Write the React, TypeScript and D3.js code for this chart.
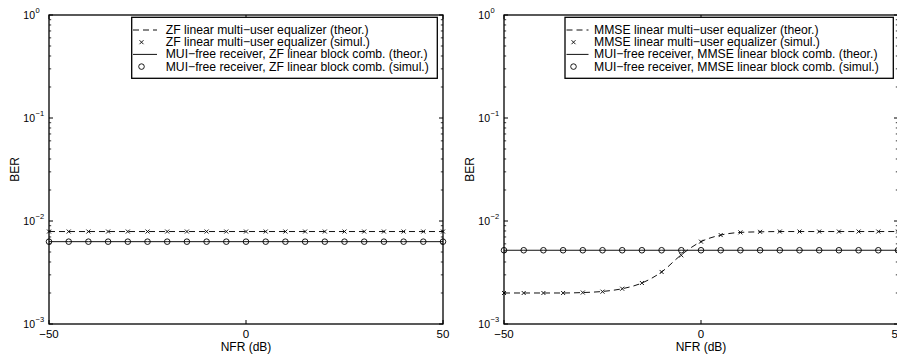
import React from "react";
import * as d3 from "d3";

// ---------- data ----------
const nfr = [-50, -45, -40, -35, -30, -25, -20, -15, -10, -5, 0, 5, 10, 15, 20, 25, 30, 35, 40, 45, 50];

const zfEqTheor = [7.9e-3, 7.9e-3, 7.9e-3, 7.9e-3, 7.9e-3, 7.9e-3, 7.9e-3, 7.9e-3, 7.9e-3, 7.9e-3, 7.9e-3, 7.9e-3, 7.9e-3, 7.9e-3, 7.9e-3, 7.9e-3, 7.9e-3, 7.9e-3, 7.9e-3, 7.9e-3, 7.9e-3];
const zfEqSimul = [7.9e-3, 7.9e-3, 7.9e-3, 7.9e-3, 7.9e-3, 7.9e-3, 7.9e-3, 7.9e-3, 7.9e-3, 7.9e-3, 7.9e-3, 7.9e-3, 7.9e-3, 7.9e-3, 7.9e-3, 7.9e-3, 7.9e-3, 7.9e-3, 7.9e-3, 7.9e-3, 7.9e-3];
const zfBlockTheor = [6.3e-3, 6.3e-3, 6.3e-3, 6.3e-3, 6.3e-3, 6.3e-3, 6.3e-3, 6.3e-3, 6.3e-3, 6.3e-3, 6.3e-3, 6.3e-3, 6.3e-3, 6.3e-3, 6.3e-3, 6.3e-3, 6.3e-3, 6.3e-3, 6.3e-3, 6.3e-3, 6.3e-3];
const zfBlockSimul = [6.3e-3, 6.3e-3, 6.3e-3, 6.3e-3, 6.3e-3, 6.3e-3, 6.3e-3, 6.3e-3, 6.3e-3, 6.3e-3, 6.3e-3, 6.3e-3, 6.3e-3, 6.3e-3, 6.3e-3, 6.3e-3, 6.3e-3, 6.3e-3, 6.3e-3, 6.3e-3, 6.3e-3];

const mmseEqTheor = [2.0e-3, 2.0e-3, 2.0e-3, 2.0e-3, 2.02e-3, 2.07e-3, 2.2e-3, 2.5e-3, 3.2e-3, 4.7e-3, 6.3e-3, 7.3e-3, 7.75e-3, 7.85e-3, 7.9e-3, 7.9e-3, 7.9e-3, 7.9e-3, 7.9e-3, 7.9e-3, 7.9e-3];
const mmseEqSimul = [2.0e-3, 2.0e-3, 2.0e-3, 2.0e-3, 2.02e-3, 2.06e-3, 2.2e-3, 2.5e-3, 3.2e-3, 4.65e-3, 6.3e-3, 7.3e-3, 7.75e-3, 7.85e-3, 7.9e-3, 7.9e-3, 7.9e-3, 7.9e-3, 7.9e-3, 7.9e-3, 7.9e-3];
const mmseBlockTheor = [5.2e-3, 5.2e-3, 5.2e-3, 5.2e-3, 5.2e-3, 5.2e-3, 5.2e-3, 5.2e-3, 5.2e-3, 5.2e-3, 5.2e-3, 5.2e-3, 5.2e-3, 5.2e-3, 5.2e-3, 5.2e-3, 5.2e-3, 5.2e-3, 5.2e-3, 5.2e-3, 5.2e-3];
const mmseBlockSimul = [5.2e-3, 5.2e-3, 5.2e-3, 5.2e-3, 5.2e-3, 5.2e-3, 5.2e-3, 5.2e-3, 5.2e-3, 5.2e-3, 5.2e-3, 5.2e-3, 5.2e-3, 5.2e-3, 5.2e-3, 5.2e-3, 5.2e-3, 5.2e-3, 5.2e-3, 5.2e-3, 5.2e-3];

const xTicks = [-50, 0, 50];
const yMajor = [1e-3, 1e-2, 1e-1, 1];
const yExponents = ["−3", "−2", "−1", "0"];

const zfLegend = [
  "ZF linear multi−user equalizer (theor.)",
  "ZF linear multi−user equalizer (simul.)",
  "MUI−free receiver, ZF linear block comb. (theor.)",
  "MUI−free receiver, ZF linear block comb. (simul.)",
];
const mmseLegend = [
  "MMSE linear multi−user equalizer (theor.)",
  "MMSE linear multi−user equalizer (simul.)",
  "MUI−free receiver, MMSE linear block comb. (theor.)",
  "MUI−free receiver, MMSE linear block comb. (simul.)",
];

const FONT = "'Liberation Sans', Arial, Helvetica, sans-serif";

type PanelProps = {
  x0: number;
  x1: number;
  eqTheor: number[];
  eqSimul: number[];
  blockTheor: number[];
  blockSimul: number[];
  legend: string[];
  legendBox: { left: number; right: number; lineL: number; lineR: number; marker: number; text: number };
};

const Y_TOP = 15;
const Y_BOT = 324;

function Panel({ x0, x1, eqTheor, eqSimul, blockTheor, blockSimul, legend, legendBox }: PanelProps) {
  const x = d3.scaleLinear().domain([-50, 50]).range([x0, x1]);
  const y = d3.scaleLog().domain([1e-3, 1]).range([Y_BOT, Y_TOP]);
  const smooth = d3
    .line<number>()
    .x((_, i) => x(nfr[i]))
    .y((d) => y(d))
    .curve(d3.curveMonotoneX);
  const straight = d3
    .line<number>()
    .x((_, i) => x(nfr[i]))
    .y((d) => y(d));

  const minor: number[] = [];
  for (let e = -3; e < 0; e++) for (let k = 2; k <= 9; k++) minor.push(k * Math.pow(10, e));

  const cx = (x0 + x1) / 2;
  const cy = (Y_TOP + Y_BOT) / 2;
  const rowY = [30, 42.2, 54.4, 66.6];

  const xMark = (px: number, py: number, s: number, key: string) => (
    <path key={key} d={`M${px - s},${py - s}L${px + s},${py + s}M${px - s},${py + s}L${px + s},${py - s}`} stroke="#000" strokeWidth={0.9} fill="none" />
  );

  return (
    <g>
      {/* data */}
      <path d={straight(blockTheor) || ""} fill="none" stroke="#111" strokeWidth={1} />
      <path d={smooth(eqTheor) || ""} fill="none" stroke="#111" strokeWidth={1} strokeDasharray="6,4" />
      {eqSimul.map((v, i) => xMark(x(nfr[i]), y(v), 2, `x${i}`))}
      {blockSimul.map((v, i) => (
        <circle key={`o${i}`} cx={x(nfr[i])} cy={y(v)} r={2.8} fill="none" stroke="#000" strokeWidth={0.9} />
      ))}

      {/* axes box */}
      <rect x={x0} y={Y_TOP} width={x1 - x0} height={Y_BOT - Y_TOP} fill="none" stroke="#000" strokeWidth={1.3} />

      {/* y ticks */}
      {yMajor.map((v) => (
        <g key={`ym${v}`}>
          <line x1={x0} x2={x0 + 4} y1={y(v)} y2={y(v)} stroke="#000" strokeWidth={1} />
          <line x1={x1} x2={x1 - 4} y1={y(v)} y2={y(v)} stroke="#000" strokeWidth={1} />
        </g>
      ))}
      {minor.map((v) => (
        <g key={`yn${v}`}>
          <line x1={x0} x2={x0 + 2.2} y1={y(v)} y2={y(v)} stroke="#000" strokeWidth={0.8} />
          <line x1={x1} x2={x1 - 2.2} y1={y(v)} y2={y(v)} stroke="#000" strokeWidth={0.8} />
        </g>
      ))}
      {/* x ticks */}
      {xTicks.map((t) => (
        <g key={`xt${t}`}>
          <line x1={x(t)} x2={x(t)} y1={Y_BOT} y2={Y_BOT - 4} stroke="#000" strokeWidth={1} />
          <line x1={x(t)} x2={x(t)} y1={Y_TOP} y2={Y_TOP + 4} stroke="#000" strokeWidth={1} />
          <text x={x(t)} y={338} textAnchor="middle" fontFamily={FONT} fontSize={11.5} fill="#000">
            {t < 0 ? `−${Math.abs(t)}` : `${t}`}
          </text>
        </g>
      ))}
      {/* y tick labels */}
      {yMajor.map((v, i) => (
        <g key={`yl${v}`}>
          <text x={x0 - 14} y={y(v) + 3.8} textAnchor="end" fontFamily={FONT} fontSize={10.5} fill="#000">
            10
          </text>
          <text x={x0 - 13.5} y={y(v) - 2} textAnchor="start" fontFamily={FONT} fontSize={7.5} fill="#000">
            {yExponents[i]}
          </text>
        </g>
      ))}

      {/* axis labels */}
      <text x={cx} y={351} textAnchor="middle" fontFamily={FONT} fontSize={12} fill="#000">
        NFR (dB)
      </text>
      <text transform={`translate(${x0 - 30},${cy}) rotate(-90)`} textAnchor="middle" fontFamily={FONT} fontSize={12} fill="#000">
        BER
      </text>

      {/* legend */}
      <rect x={legendBox.left} y={17.3} width={legendBox.right - legendBox.left} height={61} fill="#fff" stroke="#000" strokeWidth={1.3} />
      <line x1={legendBox.lineL} x2={legendBox.lineR} y1={rowY[0]} y2={rowY[0]} stroke="#111" strokeWidth={1} strokeDasharray="6,4" />
      {xMark(legendBox.marker, rowY[1], 2, "lgx")}
      <line x1={legendBox.lineL} x2={legendBox.lineR} y1={rowY[2]} y2={rowY[2]} stroke="#111" strokeWidth={1} />
      <circle cx={legendBox.marker} cy={rowY[3]} r={2.8} fill="none" stroke="#000" strokeWidth={0.9} />
      {legend.map((s, i) => (
        <text key={s} x={legendBox.text} y={rowY[i] + 4} fontFamily={FONT} fontSize={12.2} fill="#000">
          {s}
        </text>
      ))}
    </g>
  );
}

export default function App() {
  return (
    <svg width={897} height={360} style={{ position: "absolute", left: 0, top: 0, background: "#fff" }}>
      <rect x={0} y={0} width={897} height={360} fill="#fff" />
      <Panel
        x0={49}
        x1={443}
        eqTheor={zfEqTheor}
        eqSimul={zfEqSimul}
        blockTheor={zfBlockTheor}
        blockSimul={zfBlockSimul}
        legend={zfLegend}
        legendBox={{ left: 131.7, right: 437.3, lineL: 133, lineR: 157, marker: 141.5, text: 165.7 }}
      />
      <Panel
        x0={504}
        x1={898}
        eqTheor={mmseEqTheor}
        eqSimul={mmseEqSimul}
        blockTheor={mmseBlockTheor}
        blockSimul={mmseBlockSimul}
        legend={mmseLegend}
        legendBox={{ left: 565, right: 893.3, lineL: 566.5, lineR: 588.5, marker: 573.5, text: 594 }}
      />
    </svg>
  );
}
